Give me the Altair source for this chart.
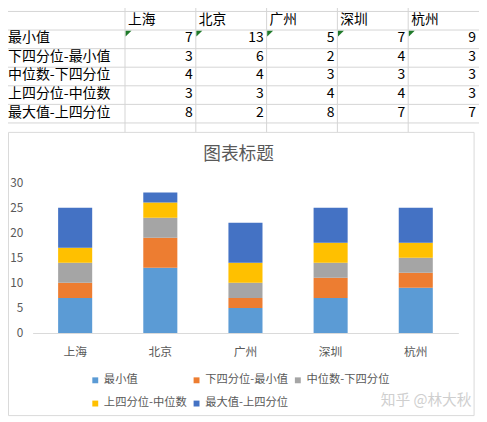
import altair as alt
import pandas as pd

cities = ["上海", "北京", "广州", "深圳", "杭州"]
series = ["最小值", "下四分位-最小值", "中位数-下四分位", "上四分位-中位数", "最大值-上四分位"]
v_min = [7, 13, 5, 7, 9]
v_q1 = [3, 6, 2, 4, 3]
v_med = [4, 4, 3, 3, 3]
v_q3 = [3, 3, 4, 4, 3]
v_max = [8, 2, 8, 7, 7]
colors = ["#5B9BD5", "#ED7D31", "#A5A5A5", "#FFC000", "#4472C4"]
title_text = "图表标题"
watermark = "知乎 @林大秋"
y_ticks = [0, 5, 10, 15, 20, 25, 30]

FONT = "Noto Sans CJK SC"
W, H = 433, 153

values = [v_min, v_q1, v_med, v_q3, v_max]
rows = []
for i, (s, vals) in enumerate(zip(series, values)):
    for c, v in zip(cities, vals):
        rows.append({"city": c, "series": s, "idx": i, "value": v})
df = pd.DataFrame(rows)

# ---- spreadsheet grid (table) ----
row_keys = ["_hdr"] + series + ["_end"]
ROW_H = 18.9
COL_W = 72
row_scale = alt.Scale(domain=row_keys, range=[-174, -174 + ROW_H * len(row_keys)],
                      paddingInner=0, paddingOuter=0)
col_scale = alt.Scale(domain=cities, range=[94, 94 + COL_W * len(cities)],
                      paddingInner=0, paddingOuter=0)

df_rowlines = pd.DataFrame({"row": row_keys})
df_cols = pd.DataFrame({"city": cities, "row": ["_hdr"] * len(cities)})
df_labels = pd.DataFrame({"row": series})
df_tri = pd.DataFrame({"city": cities, "row": [series[0]] * len(cities)})

grid_color = "#d4d4d4"
TFS = 14.2

hlines = alt.Chart(df_rowlines).mark_rule(color=grid_color, strokeWidth=1).encode(
    y=alt.Y("row:N", scale=row_scale, axis=None, bandPosition=0),
    x=alt.value(-25), x2=alt.value(454))

vlines = alt.Chart(df_cols).mark_rule(color=grid_color, strokeWidth=1).encode(
    x=alt.X("city:N", scale=col_scale, axis=None, bandPosition=0),
    y=alt.value(-180), y2=alt.value(-51))

row_labels = alt.Chart(df_labels).mark_text(align="left", baseline="middle", fontSize=TFS,
                                            color="#000000", dy=-1).encode(
    y=alt.Y("row:N", scale=row_scale, axis=None),
    x=alt.value(-25), text="row:N")

headers = alt.Chart(df_cols).mark_text(align="left", baseline="middle", fontSize=14,
                                       color="#000000", dx=-COL_W / 2 + 3, dy=-1).encode(
    x=alt.X("city:N", scale=col_scale, axis=None),
    y=alt.Y("row:N", scale=row_scale, axis=None),
    text="city:N")

numbers = alt.Chart(df).mark_text(align="right", baseline="middle", fontSize=TFS,
                                  color="#000000", dx=COL_W / 2 - 3, dy=-1).encode(
    x=alt.X("city:N", scale=col_scale, axis=None),
    y=alt.Y("series:N", scale=row_scale, axis=None),
    text="value:Q")

# small green corner triangles (path offset from the cell centre to its top-left corner)
k = 6.0
ox = -(COL_W / 2) / k + 0.1
oy = -(ROW_H / 2) / k + 0.1
tri_path = f"M{ox:.3f},{oy:.3f}L{ox + 1:.3f},{oy:.3f}L{ox:.3f},{oy + 1:.3f}Z"
triangles = alt.Chart(df_tri).mark_point(shape=tri_path, size=4 * k * k, filled=True,
                                         color="#1f7a2a", opacity=1, strokeWidth=0).encode(
    x=alt.X("city:N", scale=col_scale, axis=None),
    y=alt.Y("row:N", scale=row_scale, axis=None))

# ---- chart area ----
box = alt.Chart(pd.DataFrame({"a": [0]})).mark_rect(fill=None, stroke="#d9d9d9",
                                                     strokeWidth=1).encode(
    x=alt.value(-24.5), x2=alt.value(449), y=alt.value(-51), y2=alt.value(237))

title = alt.Chart(pd.DataFrame({"t": [title_text]})).mark_text(
    align="center", baseline="middle", fontSize=18, color="#595959").encode(
    text="t:N", x=alt.value(209.5), y=alt.value(-28))

bars = alt.Chart(df).mark_bar().encode(
    x=alt.X("city:N", sort=cities,
            scale=alt.Scale(paddingInner=0.6, paddingOuter=0.3),
            axis=alt.Axis(title=None, labelAngle=0, ticks=False, domainColor="#d9d9d9",
                          labelColor="#595959", labelFontSize=12, labelPadding=14,
                          grid=False)),
    y=alt.Y("value:Q", stack="zero", scale=alt.Scale(domain=[0, 30], nice=False),
            axis=alt.Axis(title=None, values=y_ticks, ticks=False, domain=False,
                          gridColor="#d9d9d9", labelColor="#595959", labelFontSize=12,
                          labelPadding=10)),
    color=alt.Color("series:N", scale=alt.Scale(domain=series, range=colors),
                    legend=alt.Legend(title=None, orient="none", legendX=58, legendY=195,
                                      columns=3, direction="horizontal",
                                      symbolType="square", symbolSize=36,
                                      symbolStrokeWidth=0, labelFontSize=11.5,
                                      labelColor="#595959", columnPadding=4,
                                      rowPadding=11, labelOffset=3, padding=0)),
    order=alt.Order("idx:Q", sort="ascending"))

wm = alt.Chart(pd.DataFrame({"t": [watermark]})).mark_text(
    align="left", baseline="middle", fontSize=15, color="#cfcfcf").encode(
    text="t:N", x=alt.value(354), y=alt.value(221))

chart = alt.layer(hlines, vlines, row_labels, headers, numbers, triangles,
                  box, title, bars, wm).resolve_scale(
    x="independent", y="independent").properties(
    width=W, height=H,
    padding={"left": 25, "top": 174, "right": 21, "bottom": 87},
    autosize=alt.AutoSizeParams(type="none"),
).configure(font=FONT).configure_view(strokeWidth=0)

chart.save("out.html", embed_options={"renderer": "svg", "actions": False})
